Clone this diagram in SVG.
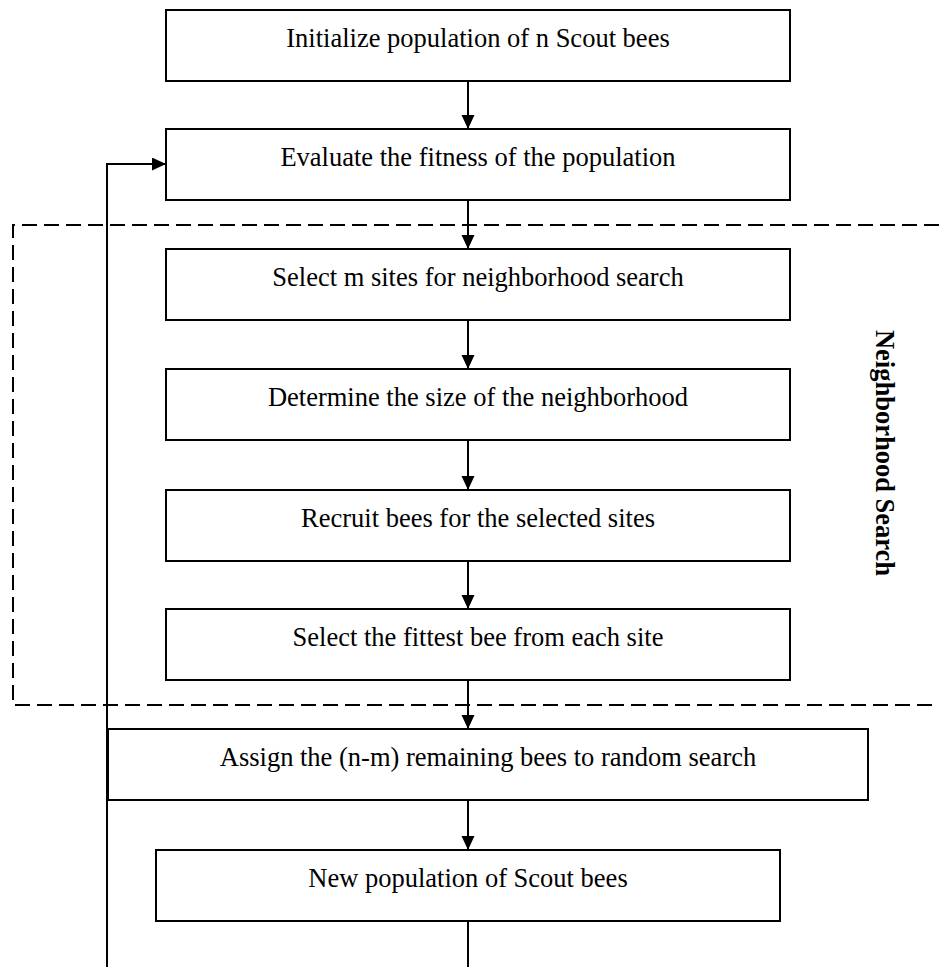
<svg xmlns="http://www.w3.org/2000/svg" width="939" height="967" viewBox="0 0 939 967">
<style>
.box{fill:#fff;stroke:#000;stroke-width:2}
.lbl{font-family:"Liberation Serif","Times New Roman",serif;font-size:26.5px;fill:#000;text-anchor:middle}
.side{font-family:"Liberation Serif","Times New Roman",serif;font-size:26.5px;font-weight:bold;fill:#000;text-anchor:middle}
.ln{fill:none;stroke:#000;stroke-width:2}
.dash{fill:none;stroke:#000;stroke-width:2;stroke-dasharray:15 7}
</style>
<defs>
<marker id="ah" markerUnits="userSpaceOnUse" markerWidth="14" markerHeight="14" refX="14" refY="6.5" orient="auto">
<path d="M0,0 L14,6.5 L0,13 z" fill="#000"/>
</marker>
</defs>
<rect width="939" height="967" fill="#fff"/>
<g id="region">
<path class="dash" d="M939,225 H13 V705 H939"/>
<text class="side" transform="translate(876,453) rotate(90)">Neighborhood Search</text>
</g>
<g id="connectors">
<line class="ln" x1="468" y1="81" x2="468" y2="129" marker-end="url(#ah)"/>
<line class="ln" x1="468" y1="200" x2="468" y2="249" marker-end="url(#ah)"/>
<line class="ln" x1="468" y1="320" x2="468" y2="369" marker-end="url(#ah)"/>
<line class="ln" x1="468" y1="440" x2="468" y2="490" marker-end="url(#ah)"/>
<line class="ln" x1="468" y1="561" x2="468" y2="609" marker-end="url(#ah)"/>
<line class="ln" x1="468" y1="680" x2="468" y2="729" marker-end="url(#ah)"/>
<line class="ln" x1="468" y1="800" x2="468" y2="850" marker-end="url(#ah)"/>
<path class="ln" d="M468,921 V970 H107 V164 H166" marker-end="url(#ah)"/>
</g>
<g id="n1"><rect class="box" x="166" y="10" width="624" height="71"/><text class="lbl" x="478" y="46.5">Initialize population of n Scout bees</text></g>
<g id="n2"><rect class="box" x="166" y="129" width="624" height="71"/><text class="lbl" x="478" y="165.5">Evaluate the fitness of the population</text></g>
<g id="n3"><rect class="box" x="166" y="249" width="624" height="71"/><text class="lbl" x="478" y="285.5">Select m sites for neighborhood search</text></g>
<g id="n4"><rect class="box" x="166" y="369" width="624" height="71"/><text class="lbl" x="478" y="405.5">Determine the size of the neighborhood</text></g>
<g id="n5"><rect class="box" x="166" y="490" width="624" height="71"/><text class="lbl" x="478" y="526.5">Recruit bees for the selected sites</text></g>
<g id="n6"><rect class="box" x="166" y="609" width="624" height="71"/><text class="lbl" x="478" y="645.5">Select the fittest bee from each site</text></g>
<g id="n7"><rect class="box" x="108" y="729" width="760" height="71"/><text class="lbl" x="488" y="765.5">Assign the (n-m) remaining bees to random search</text></g>
<g id="n8"><rect class="box" x="156" y="850" width="624" height="71"/><text class="lbl" x="468" y="886.5">New population of Scout bees</text></g>
</svg>
